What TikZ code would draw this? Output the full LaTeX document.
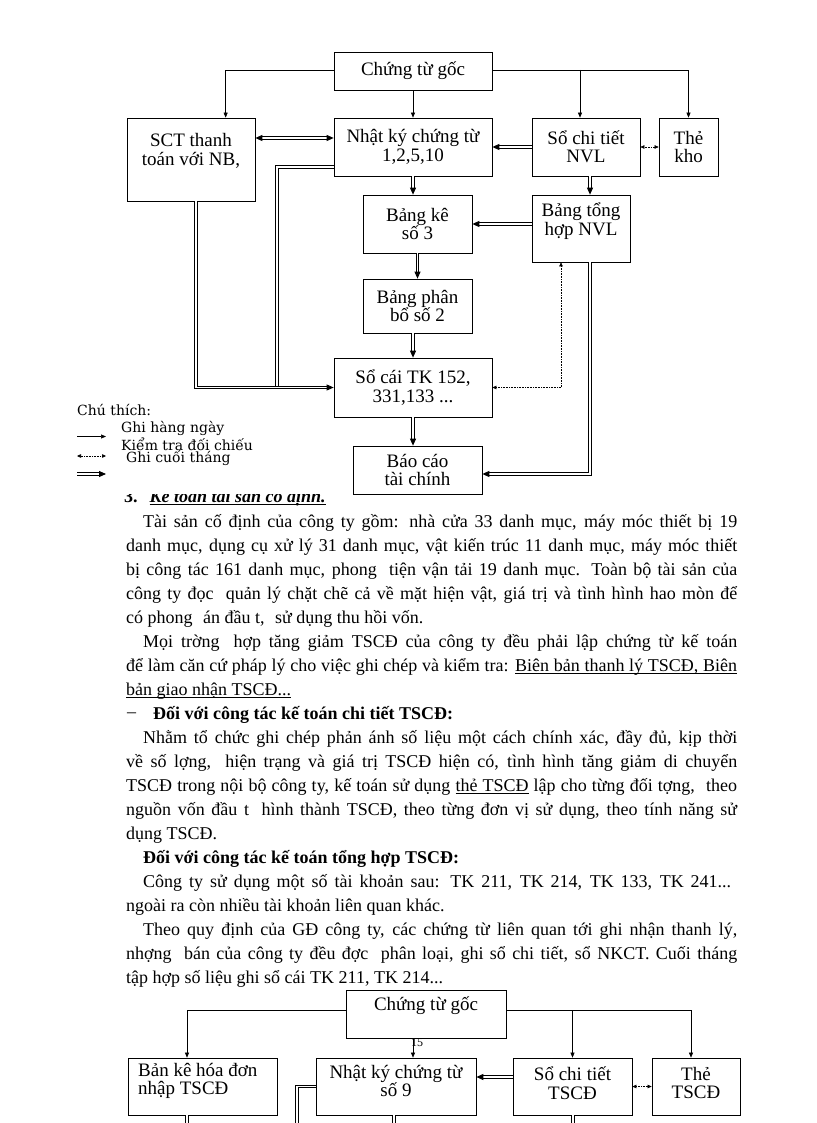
\documentclass[tikz,border=0pt]{standalone}
\usepackage{fontspec}
\setmainfont{Liberation Serif}
\newfontfamily\legfont{DejaVu Serif}
\usetikzlibrary{arrows.meta}
\newcommand\jl[1]{\makebox[594pt][s]{#1}}
\newcommand\jf[1]{\makebox[611pt][s]{#1}}
\newcommand\gp{\hspace{6pt}}
\newcommand\ulw[1]{\setbox0\hbox{#1}\rlap{\rule[-3pt]{\wd0}{0.6pt}}\box0\relax}
\newcommand\uls{\leaders\hrule height -2.4pt depth 3pt\hskip\fontdimen2\font plus\fontdimen3\font minus\fontdimen4\font\relax}
\begin{document}
\begin{tikzpicture}[x=1pt,y=-1pt,
 box/.style={draw, line width=0.7pt, inner sep=0pt, align=center, font=\fontsize{19}{18.5}\selectfont},
 btxt/.style={inner sep=0pt, align=center, font=\fontsize{19}{18.5}\selectfont},
 arr/.style={line width=0.6pt, -{Triangle[length=5pt,width=4pt]}},
 dbl/.style={double, double distance=1.3pt, line width=0.9pt},
 dblarr/.style={dbl, -{Triangle[length=7pt,width=6pt]}},
 dblarrb/.style={dbl, {Triangle[length=7pt,width=6pt]}-{Triangle[length=7pt,width=6pt]}},
 dot/.style={line width=0.6pt, densely dotted, {Triangle[length=4pt,width=3.5pt]}-{Triangle[length=4pt,width=3.5pt]}},
 body/.style={inner sep=0pt, anchor=base west, font=\fontsize{18}{24}\selectfont},
 leg/.style={inner sep=0pt, anchor=west, font=\legfont\fontsize{14}{14}\selectfont},
]
\useasboundingbox[fill=white] (0,0) rectangle (816,1123);

% ---------- top diagram ----------
\node[box, minimum width=158pt, minimum height=38pt] (g1) at (413,71) {Chứng từ gốc};
\node[box, minimum width=128pt, minimum height=83pt] (sct) at (191,159.5) {};
\node[btxt] (sctt) at (191,151) {SCT thanh\\toán với NB,};
\node[box, minimum width=158pt, minimum height=58pt] (nk) at (413,147) {Nhật ký chứng từ\\1,2,5,10};
\node[box, minimum width=108pt, minimum height=58pt] (scnvl) at (586,147) {Sổ chi tiết\\NVL};
\node[box, minimum width=59pt, minimum height=58pt] (tk) at (688.5,147) {Thẻ\\kho};
\node[box, minimum width=109pt, minimum height=58pt] (bk3) at (417.5,224) {Bảng kê\\số 3};
\node[box, minimum width=98pt, minimum height=67pt] (bth) at (581,228.5) {};
\node[btxt] (btht) at (581,221) {Bảng tổng\\hợp NVL};
\node[box, minimum width=109pt, minimum height=54pt] (bpb) at (417.5,306) {Bảng phân\\bổ số 2};
\node[box, minimum width=158pt, minimum height=59pt] (sc) at (413,387.5) {Sổ cái TK 152,\\331,133 ...};
\node[box, minimum width=129pt, minimum height=48pt] (bc) at (417.5,470) {Báo cáo\\tài chính};

\draw[arr] ([yshift=1pt]g1.west) -| ([xshift=99pt]sct.north west);
\draw[arr] (g1.south) -- (nk.north);
\draw[arr] ([yshift=1pt]g1.east) -| (tk.north);
\draw[arr] ([xshift=-6pt]scnvl.north |- 0,70) -- ([xshift=-6pt]scnvl.north);
\draw[dblarrb] ([yshift=9pt]nk.west) -- ([yshift=9pt]nk.west -| sct.east);
\draw[dblarr] (scnvl.west) -- (nk.east);
\draw[dot] (tk.west) -- (scnvl.east);
\draw[dblarr] (nk.south) -- (nk.south |- bk3.north);
\draw[dblarr] ([xshift=4pt]scnvl.south) -- ([xshift=4pt]scnvl.south |- bth.north);
\draw[dblarr] (bth.west |- bk3.east) -- (bk3.east);
\draw[dblarr] (bk3.south) -- (bpb.north);
\draw[dblarr] (sc.north |- bpb.south) -- (sc.north);
\coordinate (jn) at (277,387.5);
\draw[dbl] ([yshift=-20pt]nk.west) -| (jn);
\draw[dblarr] ([xshift=5pt]sct.south) |- (sc.west);
\draw[dot] (sc.east) -| ([xshift=-20pt]bth.south);
\draw[dblarr] ([xshift=9pt]bth.south) |- ([yshift=-4pt]bc.east);
\draw[dblarr] (sc.south) -- (sc.south |- bc.north);

% ---------- legend ----------
\node[leg] (chu) at (77,410) {Chú thích:};
\node[leg] (ghn) at (121,428) {Ghi hàng ngày};
\node[leg] (ktdc) at (121,444) {Kiểm tra đối chiếu};
\node[leg] (gct) at (126,458) {Ghi cuối tháng};
\coordinate (la1) at (77,436.5); \coordinate (lb1) at (106,436.5);
\coordinate (la2) at (77,456); \coordinate (lb2) at (106,456);
\coordinate (la3) at (77,474); \coordinate (lb3) at (106,474);
\draw[arr] (la1) -- (lb1);
\draw[dot] (la2) -- (lb2);
\draw[dblarr] (la3) -- (lb3);

% ---------- text ----------
\begin{scope}
\clip (110,494.5) rectangle (400,512);
\node[body] (h3) at (124,502) {\textbf{3.}\hspace{12pt}\textbf{\textit{\ulw{Kế toán tài sản cố định.}}}};
\end{scope}
\node[body] (t1) at (143,527) {\jl{Tài sản cố định của công ty gồm: nhà cửa 33 danh mục, máy móc thiết bị 19}};
\node[body] (t2) at (126,551) {\jf{danh mục, dụng cụ xử lý 31 danh mục, vật kiến trúc 11 danh mục, máy móc thiết}};
\node[body] (t3) at (126,575) {\jf{bị công tác 161 danh mục, phong\gp{} tiện vận tải 19 danh mục. Toàn bộ tài sản của}};
\node[body] (t4) at (126,599) {\jf{công ty đọc\gp{} quản lý chặt chẽ cả về mặt hiện vật, giá trị và tình hình hao mòn để}};
\node[body] (t5) at (126,623) {có phong\gp{} án đầu t,\gp{} sử dụng thu hồi vốn.};
\node[body] (t6) at (143,647) {\jl{Mọi trờng\gp{} hợp tăng giảm TSCĐ của công ty đều phải lập chứng từ kế toán}};
\node[body] (t7) at (126,671) {\jf{để làm căn cứ pháp lý cho việc ghi chép và kiểm tra: \ulw{Biên}\uls\ulw{bản}\uls\ulw{thanh}\uls\ulw{lý}\uls\ulw{TSCĐ,}\uls\ulw{Biên}}};
\node[body] (t8) at (126,695) {\ulw{bản giao nhận TSCĐ...}};
\node[body] (t9a) at (127,717) {–};
\node[body] (t9) at (153,719) {\textbf{Đối với công tác kế toán chi tiết TSCĐ:}};
\node[body] (t10) at (143,743) {\jl{Nhằm tổ chức ghi chép phản ánh số liệu một cách chính xác, đầy đủ, kịp thời}};
\node[body] (t11) at (126,767) {\jf{về số lợng,\gp{} hiện trạng và giá trị TSCĐ hiện có, tình hình tăng giảm di chuyển}};
\node[body] (t12) at (126,791) {\jf{TSCĐ trong nội bộ công ty, kế toán sử dụng \ulw{thẻ}\uls\ulw{TSCĐ} lập cho từng đối tợng,\gp{} theo}};
\node[body] (t13) at (126,815) {\jf{nguồn vốn đầu t\gp{} hình thành TSCĐ, theo từng đơn vị sử dụng, theo tính năng sử}};
\node[body] (t14) at (126,839) {dụng TSCĐ.};
\node[body] (t15) at (143,863) {\textbf{Đối với công tác kế toán tổng hợp TSCĐ:}};
\node[body] (t16) at (143,887) {\makebox[588pt][s]{Công ty sử dụng một số tài khoản sau: TK 211, TK 214, TK 133, TK 241...}};
\node[body] (t17) at (126,911) {ngoài ra còn nhiều tài khoản liên quan khác.};
\node[body] (t18) at (143,935) {\jl{Theo quy định của GĐ công ty, các chứng từ liên quan tới ghi nhận thanh lý,}};
\node[body] (t19) at (126,959) {\jf{nhợng\gp{} bán của công ty đều đợc\gp{} phân loại, ghi sổ chi tiết, sổ NKCT. Cuối tháng}};
\node[body] (t20) at (126,983) {tập hợp số liệu ghi sổ cái TK 211, TK 214...};

% ---------- bottom diagram ----------
\node[box, minimum width=160pt, minimum height=48pt] (g2) at (426,1014) {};
\node[btxt] (g2t) at (426,1006) {Chứng từ gốc};
\node[font=\fontsize{12}{12}\selectfont, inner sep=0pt] (pn) at (417,1043) {15};
\node[box, minimum width=149pt, minimum height=57pt] (bke) at (202.5,1086.5) {};
\node[btxt, anchor=west, align=left] (bket) at (138,1081) {Bản kê hóa đơn\\nhập TSCĐ};
\node[box, minimum width=160pt, minimum height=57pt] (nk2) at (396,1086.5) {};
\node[btxt] (nk2t) at (396,1081) {Nhật ký chứng từ\\số 9};
\node[box, minimum width=119pt, minimum height=57pt] (sct2) at (572.5,1086.5) {};
\node[btxt] (sct2t) at (572.5,1083) {Sổ chi tiết\\TSCĐ};
\node[box, minimum width=88pt, minimum height=57pt] (the2) at (696,1086.5) {};
\node[btxt] (the2t) at (696,1083) {Thẻ\\TSCĐ};

\draw[arr] ([yshift=4pt]g2.west) -| ([xshift=-15.5pt]bke.north);
\draw[arr] ([xshift=17pt]nk2.north |- g2.south) -- ([xshift=17pt]nk2.north);
\draw[arr] ([yshift=4pt]g2.east) -| ([xshift=-5pt]the2.north);
\draw[arr] (sct2.north |- 0,1010) -- (sct2.north);
\draw[dblarr] ([yshift=9.5pt]sct2.west) -- ([yshift=9.5pt]sct2.west -| nk2.east);
\draw[dot] (sct2.east) -- (the2.west);
\coordinate (e1) at (297,1123);
\coordinate (e2) at (187,1123);
\coordinate (e3) at (394,1123);
\coordinate (e4) at (573,1123);
\draw[dbl] (nk2.west) -| (e1);
\draw[dbl] (bke.south -| e2) -- (e2);
\draw[dbl] (nk2.south -| e3) -- (e3);
\draw[dbl] (sct2.south -| e4) -- (e4);
\end{tikzpicture}
\end{document}
